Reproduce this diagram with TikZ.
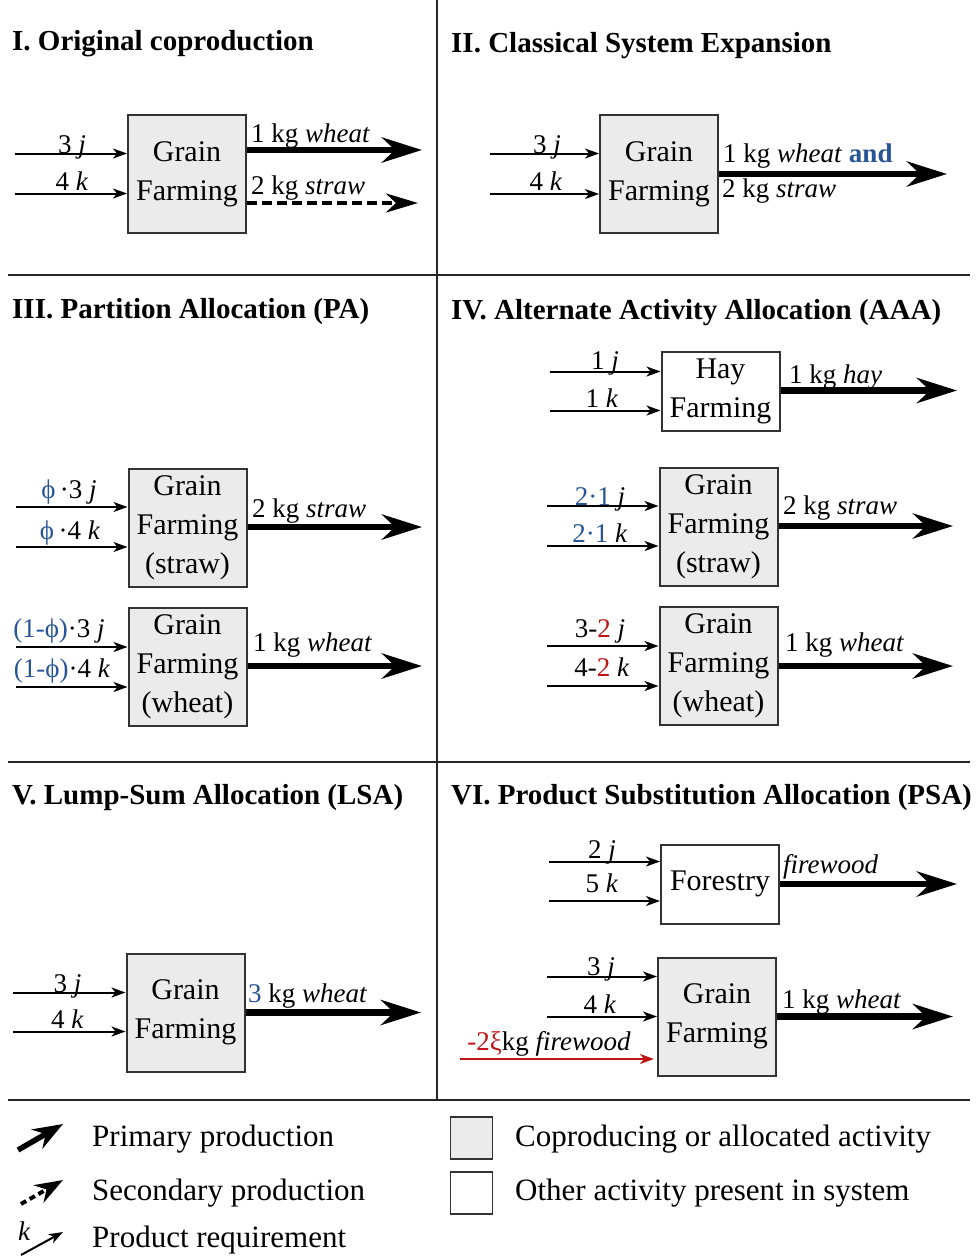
\documentclass[tikz,border=0pt]{standalone}
\usepackage{fontspec}
\setmainfont{Liberation Serif}
\usetikzlibrary{arrows.meta}
\definecolor{myblue}{RGB}{40,85,150}
\definecolor{myred}{RGB}{190,20,20}
\definecolor{boxgray}{RGB}{235,235,235}
\newcommand\boxfont{\fontsize{30}{39}\selectfont}
\newcommand\lblfont{\fontsize{27}{32}\selectfont}
\newcommand\ttlfont{\fontsize{29}{34}\selectfont\bfseries}
\newcommand\legfont{\fontsize{31}{36}\selectfont}
\begin{document}
\begin{tikzpicture}[x=1pt,y=-1pt,
  gbox/.style={draw=black!80, line width=2pt, fill=boxgray, minimum width=118pt, minimum height=118pt, align=center, font=\boxfont, inner sep=0pt},
  wbox/.style={gbox, fill=white, minimum height=79pt},
  inarr/.style={line width=2pt, -{Stealth[length=14pt,width=10pt,inset=4pt]}},
  redarr/.style={inarr, draw=myred},
  outarr/.style={line width=6.5pt, -{Stealth[length=40pt,width=25pt,inset=13pt]}},
  secarr/.style={line width=4.5pt, dash pattern=on 10pt off 5pt, -{Stealth[length=32pt,width=19pt,inset=10pt]}},
  lbl/.style={font=\lblfont, inner sep=0pt, anchor=base},
  olbl/.style={font=\lblfont, inner sep=0pt, anchor=base west},
  ttl/.style={font=\ttlfont, inner sep=0pt, anchor=base west},
  leg/.style={font=\legfont, inner sep=0pt, anchor=base west},
  divider/.style={line width=1.5pt, draw=black!85}
]
\useasboundingbox (0,0) rectangle (977,1258);
\fill[white] (0,0) rectangle (977,1258);

% dividers
\coordinate (vtop) at (437,0);
\coordinate (vbot) at (437,1100);
\coordinate (h1l) at (8,275);   \coordinate (h1r) at (970,275);
\coordinate (h2l) at (8,762);   \coordinate (h2r) at (970,762);
\coordinate (h3l) at (8,1100);  \coordinate (h3r) at (970,1100);
\draw[divider] (vtop) -- (vbot);
\draw[divider] (h1l) -- (h1r);
\draw[divider] (h2l) -- (h2r);
\draw[divider] (h3l) -- (h3r);

% titles
\node[ttl] (t1) at (12,50) {I. Original coproduction};
\node[ttl] (t2) at (451,52) {II. Classical System Expansion};
\node[ttl] (t3) at (12,318) {III. Partition Allocation (PA)};
\node[ttl] (t4) at (451,319) {IV. Alternate Activity Allocation (AAA)};
\node[ttl] (t5) at (12,804) {V. Lump-Sum Allocation (LSA)};
\node[ttl] (t6) at (451,804) {VI. Product Substitution Allocation (PSA)};

% ---------- Panel I ----------
\node[gbox] (b1) at (187,174) {Grain\\Farming};
\coordinate (i1a) at (15,153.5); \coordinate (i1b) at (15,193.5);
\coordinate (o1a) at (422,150);  \coordinate (o1b) at (418,203);
\draw[inarr] (i1a) -- (i1a -| b1.west);
\draw[inarr] (i1b) -- (i1b -| b1.west);
\draw[outarr] (o1a -| b1.east) -- (o1a);
\draw[secarr] (o1b -| b1.east) -- (o1b);
\node[lbl] (l1a) at (72,153) {3 \textit{j}};
\node[lbl] (l1b) at (72,190) {4 \textit{k}};
\node[olbl] (l1c) at (251,142) {1 kg \textit{wheat}};
\node[olbl] (l1d) at (251,194) {2 kg \textit{straw}};

% ---------- Panel II ----------
\node[gbox] (b2) at (659,174) {Grain\\Farming};
\coordinate (i2a) at (490,153.5); \coordinate (i2b) at (490,194);
\coordinate (o2) at (947,174);
\draw[inarr] (i2a) -- (i2a -| b2.west);
\draw[inarr] (i2b) -- (i2b -| b2.west);
\draw[outarr] (o2 -| b2.east) -- (o2);
\node[lbl] (l2a) at (547,153) {3 \textit{j}};
\node[lbl] (l2b) at (546,190) {4 \textit{k}};
\node[olbl] (l2c) at (723,162) {1 kg \textit{wheat} \textcolor{myblue}{\textbf{and}}};
\node[olbl] (l2d) at (722,197) {2 kg \textit{straw}};

% ---------- Panel III ----------
\node[gbox] (b3s) at (187.5,527.5) {Grain\\Farming\\(straw)};
\node[gbox] (b3w) at (187.5,666.5) {Grain\\Farming\\(wheat)};
\coordinate (i3a) at (16,507); \coordinate (i3b) at (16,547);
\coordinate (i3c) at (16,647); \coordinate (i3d) at (16,687);
\coordinate (o3s) at (422,527); \coordinate (o3w) at (422,666);
\draw[inarr] (i3a) -- (i3a -| b3s.west);
\draw[inarr] (i3b) -- (i3b -| b3s.west);
\draw[inarr] (i3c) -- (i3c -| b3w.west);
\draw[inarr] (i3d) -- (i3d -| b3w.west);
\draw[outarr] (o3s -| b3s.east) -- (o3s);
\draw[outarr] (o3w -| b3w.east) -- (o3w);
\node[lbl] (l3a) at (69,498) {\textcolor{myblue}{ϕ}\,·3 \textit{j}};
\node[lbl] (l3b) at (70,539) {\textcolor{myblue}{ϕ}\,·4 \textit{k}};
\node[lbl] (l3c) at (59,637) {\textcolor{myblue}{(1-ϕ)}·3 \textit{j}};
\node[lbl] (l3d) at (62,677) {\textcolor{myblue}{(1-ϕ)}·4 \textit{k}};
\node[olbl] (l3e) at (252,517) {2 kg \textit{straw}};
\node[olbl] (l3f) at (253,651) {1 kg \textit{wheat}};

% ---------- Panel IV ----------
\node[wbox] (b4h) at (720.5,391) {Hay\\Farming};
\node[gbox] (b4s) at (718.5,526.5) {Grain\\Farming\\(straw)};
\node[gbox] (b4w) at (718.5,666) {Grain\\Farming\\(wheat)};
\coordinate (i4a) at (550,371.5); \coordinate (i4b) at (550,410.5);
\coordinate (i4c) at (547,506);   \coordinate (i4d) at (547,546);
\coordinate (i4e) at (547,646);   \coordinate (i4f) at (547,686);
\coordinate (o4h) at (957,390.5); \coordinate (o4s) at (953,526); \coordinate (o4w) at (953,666);
\draw[inarr] (i4a) -- (i4a -| b4h.west);
\draw[inarr] (i4b) -- (i4b -| b4h.west);
\draw[inarr] (i4c) -- (i4c -| b4s.west);
\draw[inarr] (i4d) -- (i4d -| b4s.west);
\draw[inarr] (i4e) -- (i4e -| b4w.west);
\draw[inarr] (i4f) -- (i4f -| b4w.west);
\draw[outarr] (o4h -| b4h.east) -- (o4h);
\draw[outarr] (o4s -| b4s.east) -- (o4s);
\draw[outarr] (o4w -| b4w.east) -- (o4w);
\node[lbl] (l4a) at (605,369) {1 \textit{j}};
\node[lbl] (l4b) at (602,407) {1 \textit{k}};
\node[lbl] (l4c) at (600,505) {\textcolor{myblue}{2·1} \textit{j}};
\node[lbl] (l4d) at (600,542) {\textcolor{myblue}{2·1} \textit{k}};
\node[lbl] (l4e) at (600,637) {3-\textcolor{myred}{2} \textit{j}};
\node[lbl] (l4f) at (602,676) {4-\textcolor{myred}{2} \textit{k}};
\node[olbl] (l4g) at (789,383) {1 kg \textit{hay}};
\node[olbl] (l4h) at (783,514) {2 kg \textit{straw}};
\node[olbl] (l4i) at (785,651) {1 kg \textit{wheat}};

% ---------- Panel V ----------
\node[gbox] (b5) at (185.5,1012.5) {Grain\\Farming};
\coordinate (i5a) at (13,992.5); \coordinate (i5b) at (13,1031.5);
\coordinate (o5) at (421,1012.5);
\draw[inarr] (i5a) -- (i5a -| b5.west);
\draw[inarr] (i5b) -- (i5b -| b5.west);
\draw[outarr] (o5 -| b5.east) -- (o5);
\node[lbl] (l5a) at (67.5,992) {3 \textit{j}};
\node[lbl] (l5b) at (67.5,1028) {4 \textit{k}};
\node[olbl] (l5c) at (248,1002) {\textcolor{myblue}{3} kg \textit{wheat}};

% ---------- Panel VI ----------
\node[wbox] (b6f) at (720,884) {Forestry};
\node[gbox] (b6) at (717,1016.5) {Grain\\Farming};
\coordinate (i6a) at (549,861.5); \coordinate (i6b) at (549,901);
\coordinate (i6c) at (547,976.5); \coordinate (i6d) at (547,1016.5);
\coordinate (i6e) at (460,1059);
\coordinate (o6f) at (957,884); \coordinate (o6w) at (953,1016.5);
\draw[inarr] (i6a) -- (i6a -| b6f.west);
\draw[inarr] (i6b) -- (i6b -| b6f.west);
\draw[inarr] (i6c) -- (i6c -| b6.west);
\draw[inarr] (i6d) -- (i6d -| b6.west);
\draw[redarr] (i6e) -- ([xshift=-3pt]i6e -| b6.west);
\draw[outarr] (o6f -| b6f.east) -- (o6f);
\draw[outarr] (o6w -| b6.east) -- (o6w);
\node[lbl] (l6a) at (602,858) {2 \textit{j}};
\node[lbl] (l6b) at (602,892) {5 \textit{k}};
\node[lbl] (l6c) at (601,975) {3 \textit{j}};
\node[lbl] (l6d) at (600,1013) {4 \textit{k}};
\node[lbl] (l6e) at (549,1050) {\textcolor{myred}{-2ξ}kg \textit{firewood}};
\node[olbl] (l6f) at (783,873) {\textit{firewood}};
\node[olbl] (l6g) at (782,1008) {1 kg \textit{wheat}};

% ---------- Legend ----------
\coordinate (lp1) at (18,1150); \coordinate (lp2) at (63,1124);
\coordinate (ls1) at (21,1204); \coordinate (ls2) at (63,1180);
\coordinate (lr1) at (21,1255); \coordinate (lr2) at (63,1232);
\draw[line width=5.5pt, -{Stealth[length=30pt,width=22pt,inset=10pt]}] (lp1) -- (lp2);
\draw[line width=4pt, dash pattern=on 6pt off 4pt, -{Stealth[length=28pt,width=20pt,inset=9pt]}] (ls1) -- (ls2);
\draw[inarr] (lr1) -- (lr2);
\node[font=\lblfont\itshape, inner sep=0pt, anchor=base] (lk) at (24,1240) {k};
\node[leg] (lt1) at (92,1146) {Primary production};
\node[leg] (lt2) at (92,1200) {Secondary production};
\node[leg] (lt3) at (92,1247) {Product requirement};
\node[draw=black!80, line width=1.5pt, fill=boxgray, minimum width=42pt, minimum height=42pt, inner sep=0pt] (lb1) at (471.5,1138) {};
\node[draw=black!80, line width=1.5pt, fill=white, minimum width=42pt, minimum height=42pt, inner sep=0pt] (lb2) at (471.5,1193) {};
\node[leg] (lt4) at (515,1146) {Coproducing or allocated activity};
\node[leg] (lt5) at (515,1200) {Other activity present in system};
\end{tikzpicture}
\end{document}
